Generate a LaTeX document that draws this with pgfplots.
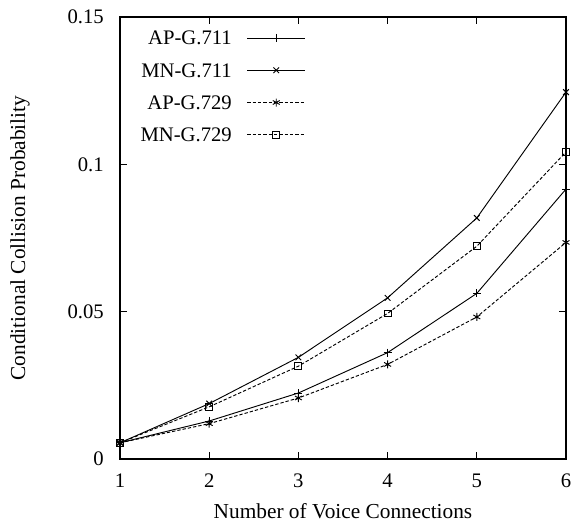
\documentclass[border=0pt]{standalone}
\usepackage{pgfplots}
\pgfplotsset{compat=1.18}
\usepackage{fontspec}
\setmainfont{Liberation Serif}
\begin{document}
\begin{tikzpicture}
\begin{axis}[
  name=ax,
  scale only axis,
  width=334.5pt, height=331.5pt,
  xmin=1, xmax=6, ymin=0, ymax=0.15,
  xtick={1,2,3,4,5,6},
  ytick={0,0.05,0.1,0.15},
  yticklabels={0,0.05,0.1,0.15},
  tick align=inside,
  tick pos=both,
  major tick length=5.5pt,
  font=\fontsize{16}{19}\selectfont,
  ticklabel style={font=\fontsize{15.5}{18}\selectfont},
  xticklabel style={anchor=center, yshift=-16.1pt},
  yticklabel style={anchor=east, inner sep=0pt, xshift=-12pt},
  /pgf/number format/assume math mode=true,
  xlabel={Number of Voice Connections},
  ylabel={Conditional Collision Probability},
  xlabel style={at={(axis description cs:0.5,-0.1335)}, anchor=base},
  ylabel style={at={(axis description cs:-0.224,0.5)}, anchor=center},
  axis line style={line width=0.9pt},
  every tick/.style={black, line width=0.7pt},
  legend style={at={(0.417,0.969)}, anchor=north east, draw=none, fill=none,
    inner sep=0pt,
    nodes={inner sep=0pt, text height=10.5pt, text depth=0pt},
    legend cell align=right, row sep=13.7pt, column sep=11.25pt,
    font=\fontsize{15.5}{18}\selectfont},
  legend plot pos=right,
  legend image code/.code={
    \draw[mark repeat=2,mark phase=2,#1] plot coordinates {(0pt,0pt)(21.75pt,0pt)(43.5pt,0pt)};
  },
]
\addplot[black, line width=0.7pt, mark=+, mark size=3pt] coordinates {
 (1,0.0055) (2,0.0129) (3,0.0224) (4,0.0361) (5,0.0562) (6,0.0916)};
\addlegendentry{AP-G.711}
\addplot[black, line width=0.7pt, mark=x, mark size=3pt] coordinates {
 (1,0.0055) (2,0.0188) (3,0.0345) (4,0.0547) (5,0.0818) (6,0.1245)};
\addlegendentry{MN-G.711}
\addplot[black, line width=0.7pt, dash pattern=on 2.5pt off 1.5pt, mark=asterisk, mark size=3pt, mark options={solid}] coordinates {
 (1,0.0055) (2,0.0120) (3,0.0207) (4,0.0321) (5,0.0482) (6,0.0735)};
\addlegendentry{AP-G.729}
\addplot[black, line width=0.7pt, dash pattern=on 2.5pt off 1.5pt, mark=square, mark size=2.6pt, mark options={solid}] coordinates {
 (1,0.0055) (2,0.0177) (3,0.0315) (4,0.0494) (5,0.0722) (6,0.1042)};
\addlegendentry{MN-G.729}
\end{axis}
\pgfresetboundingbox
\path ([xshift=-90pt,yshift=-46.5pt]ax.south west) rectangle ([xshift=4.5pt,yshift=12.75pt]ax.north east);
\end{tikzpicture}
\end{document}
